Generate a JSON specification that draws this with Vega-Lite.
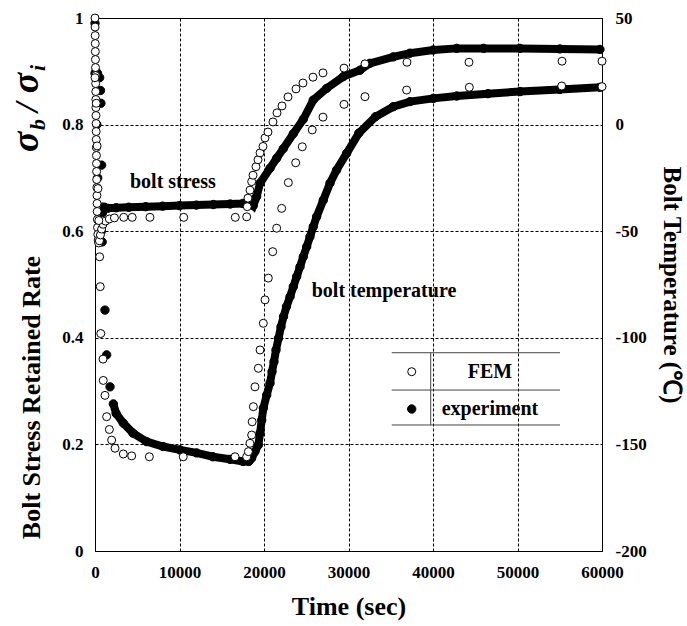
{
  "$schema": "https://vega.github.io/schema/vega-lite/v6.json",
  "width": 507,
  "height": 533,
  "autosize": {"type": "none"},
  "padding": {"left": 95, "top": 18, "right": 85, "bottom": 75},
  "background": "white",
  "config": {
    "font": "Liberation Serif",
    "view": {"stroke": "black", "strokeWidth": 1},
    "axis": {
      "labelFont": "Liberation Serif", "labelFontWeight": "bold", "labelFontSize": 17, "labelColor": "black",
      "titleFont": "Liberation Serif", "titleFontWeight": "bold", "titleFontSize": 26, "titleColor": "black",
      "domain": false, "ticks": false, "tickSize": 0, "grid": false
    },
    "text": {"font": "Liberation Serif", "fontWeight": "bold", "color": "black"}
  },
  "datasets": {
    "stressExp": [
      {"t": 0, "stress": 0.99, "src": "experiment"}, {"t": 120, "stress": 0.9, "src": "experiment"},
      {"t": 220, "stress": 0.8, "src": "experiment"}, {"t": 320, "stress": 0.7, "src": "experiment"},
      {"t": 420, "stress": 0.62, "src": "experiment"}, {"t": 600, "stress": 0.58, "src": "experiment"},
      {"t": 750, "stress": 0.6, "src": "experiment"}, {"t": 900, "stress": 0.635, "src": "experiment"},
      {"t": 1100, "stress": 0.645, "src": "experiment"}, {"t": 1500, "stress": 0.643, "src": "experiment"},
      {"t": 2500, "stress": 0.644, "src": "experiment"}, {"t": 4000, "stress": 0.645, "src": "experiment"},
      {"t": 6000, "stress": 0.646, "src": "experiment"}, {"t": 8000, "stress": 0.647, "src": "experiment"},
      {"t": 10000, "stress": 0.648, "src": "experiment"}, {"t": 12000, "stress": 0.649, "src": "experiment"},
      {"t": 14000, "stress": 0.65, "src": "experiment"}, {"t": 16000, "stress": 0.651, "src": "experiment"},
      {"t": 17500, "stress": 0.652, "src": "experiment"}, {"t": 18400, "stress": 0.653, "src": "experiment"},
      {"t": 18730, "stress": 0.648, "src": "experiment"}, {"t": 19130, "stress": 0.665, "src": "experiment"},
      {"t": 19530, "stress": 0.69, "src": "experiment"}, {"t": 20710, "stress": 0.718, "src": "experiment"},
      {"t": 21500, "stress": 0.737, "src": "experiment"}, {"t": 22290, "stress": 0.755, "src": "experiment"},
      {"t": 23470, "stress": 0.783, "src": "experiment"}, {"t": 24650, "stress": 0.81, "src": "experiment"},
      {"t": 25830, "stress": 0.846, "src": "experiment"}, {"t": 27420, "stress": 0.868, "src": "experiment"},
      {"t": 29380, "stress": 0.89, "src": "experiment"}, {"t": 31360, "stress": 0.902, "src": "experiment"},
      {"t": 32540, "stress": 0.915, "src": "experiment"}, {"t": 35300, "stress": 0.927, "src": "experiment"},
      {"t": 37280, "stress": 0.934, "src": "experiment"}, {"t": 40040, "stress": 0.94, "src": "experiment"},
      {"t": 42800, "stress": 0.943, "src": "experiment"}, {"t": 46000, "stress": 0.943, "src": "experiment"},
      {"t": 50300, "stress": 0.943, "src": "experiment"}, {"t": 55000, "stress": 0.942, "src": "experiment"},
      {"t": 59760, "stress": 0.941, "src": "experiment"}
    ],
    "stressFEM": [
      {"t": 0, "stress": 1.0, "src": "FEM"}, {"t": 10, "stress": 0.983, "src": "FEM"},
      {"t": 20, "stress": 0.967, "src": "FEM"}, {"t": 30, "stress": 0.952, "src": "FEM"},
      {"t": 40, "stress": 0.937, "src": "FEM"}, {"t": 50, "stress": 0.922, "src": "FEM"},
      {"t": 60, "stress": 0.907, "src": "FEM"}, {"t": 70, "stress": 0.892, "src": "FEM"},
      {"t": 80, "stress": 0.877, "src": "FEM"}, {"t": 90, "stress": 0.862, "src": "FEM"},
      {"t": 100, "stress": 0.847, "src": "FEM"}, {"t": 110, "stress": 0.832, "src": "FEM"},
      {"t": 120, "stress": 0.817, "src": "FEM"}, {"t": 130, "stress": 0.802, "src": "FEM"},
      {"t": 140, "stress": 0.787, "src": "FEM"}, {"t": 150, "stress": 0.772, "src": "FEM"},
      {"t": 160, "stress": 0.757, "src": "FEM"}, {"t": 170, "stress": 0.742, "src": "FEM"},
      {"t": 180, "stress": 0.727, "src": "FEM"}, {"t": 190, "stress": 0.712, "src": "FEM"},
      {"t": 200, "stress": 0.697, "src": "FEM"}, {"t": 215, "stress": 0.682, "src": "FEM"},
      {"t": 230, "stress": 0.667, "src": "FEM"}, {"t": 245, "stress": 0.652, "src": "FEM"},
      {"t": 260, "stress": 0.637, "src": "FEM"}, {"t": 280, "stress": 0.622, "src": "FEM"},
      {"t": 300, "stress": 0.607, "src": "FEM"}, {"t": 330, "stress": 0.594, "src": "FEM"},
      {"t": 370, "stress": 0.583, "src": "FEM"}, {"t": 430, "stress": 0.578, "src": "FEM"},
      {"t": 520, "stress": 0.582, "src": "FEM"}, {"t": 640, "stress": 0.593, "src": "FEM"},
      {"t": 780, "stress": 0.604, "src": "FEM"}, {"t": 950, "stress": 0.613, "src": "FEM"},
      {"t": 1250, "stress": 0.619, "src": "FEM"}, {"t": 1700, "stress": 0.623, "src": "FEM"},
      {"t": 2300, "stress": 0.625, "src": "FEM"}, {"t": 3400, "stress": 0.626, "src": "FEM"},
      {"t": 4400, "stress": 0.626, "src": "FEM"}, {"t": 6500, "stress": 0.626, "src": "FEM"},
      {"t": 10500, "stress": 0.626, "src": "FEM"}, {"t": 16600, "stress": 0.626, "src": "FEM"},
      {"t": 17950, "stress": 0.627, "src": "FEM"}, {"t": 18020, "stress": 0.646, "src": "FEM"},
      {"t": 18100, "stress": 0.662, "src": "FEM"}, {"t": 18340, "stress": 0.677, "src": "FEM"},
      {"t": 18540, "stress": 0.693, "src": "FEM"}, {"t": 18700, "stress": 0.705, "src": "FEM"},
      {"t": 19050, "stress": 0.721, "src": "FEM"}, {"t": 19290, "stress": 0.734, "src": "FEM"},
      {"t": 19530, "stress": 0.747, "src": "FEM"}, {"t": 19880, "stress": 0.759, "src": "FEM"},
      {"t": 20120, "stress": 0.775, "src": "FEM"}, {"t": 20470, "stress": 0.786, "src": "FEM"},
      {"t": 21060, "stress": 0.805, "src": "FEM"}, {"t": 21540, "stress": 0.822, "src": "FEM"},
      {"t": 22130, "stress": 0.835, "src": "FEM"}, {"t": 22840, "stress": 0.852, "src": "FEM"},
      {"t": 23790, "stress": 0.867, "src": "FEM"}, {"t": 24610, "stress": 0.878, "src": "FEM"},
      {"t": 25800, "stress": 0.889, "src": "FEM"}, {"t": 26980, "stress": 0.897, "src": "FEM"},
      {"t": 29470, "stress": 0.906, "src": "FEM"}, {"t": 31950, "stress": 0.914, "src": "FEM"},
      {"t": 36920, "stress": 0.917, "src": "FEM"}, {"t": 44260, "stress": 0.917, "src": "FEM"},
      {"t": 55270, "stress": 0.919, "src": "FEM"}, {"t": 60000, "stress": 0.919, "src": "FEM"}
    ],
    "tempExp": [
      {"t": 0, "temp": 24, "src": "experiment"}, {"t": 300, "temp": 24, "src": "experiment"},
      {"t": 550, "temp": 22, "src": "experiment"}, {"t": 650, "temp": 16, "src": "experiment"},
      {"t": 700, "temp": 10, "src": "experiment"}, {"t": 780, "temp": -19, "src": "experiment"},
      {"t": 850, "temp": -55, "src": "experiment"}, {"t": 1180, "temp": -87, "src": "experiment"},
      {"t": 1380, "temp": -108, "src": "experiment"}, {"t": 1780, "temp": -123, "src": "experiment"},
      {"t": 2170, "temp": -131, "src": "experiment"}, {"t": 2500, "temp": -135.5, "src": "experiment"},
      {"t": 3350, "temp": -140, "src": "experiment"}, {"t": 4490, "temp": -144.7, "src": "experiment"},
      {"t": 6110, "temp": -148.7, "src": "experiment"}, {"t": 8050, "temp": -151, "src": "experiment"},
      {"t": 10060, "temp": -152.6, "src": "experiment"}, {"t": 12030, "temp": -154, "src": "experiment"},
      {"t": 13960, "temp": -155.8, "src": "experiment"}, {"t": 15970, "temp": -157, "src": "experiment"},
      {"t": 17520, "temp": -158, "src": "experiment"}, {"t": 18200, "temp": -158, "src": "experiment"},
      {"t": 18530, "temp": -156.5, "src": "experiment"}, {"t": 18930, "temp": -153.4, "src": "experiment"},
      {"t": 19330, "temp": -150.3, "src": "experiment"}, {"t": 19530, "temp": -144.8, "src": "experiment"},
      {"t": 19730, "temp": -138.6, "src": "experiment"}, {"t": 19920, "temp": -133, "src": "experiment"},
      {"t": 20320, "temp": -126.8, "src": "experiment"}, {"t": 20710, "temp": -121.3, "src": "experiment"},
      {"t": 20950, "temp": -115.9, "src": "experiment"}, {"t": 21180, "temp": -111.2, "src": "experiment"},
      {"t": 21420, "temp": -105.7, "src": "experiment"}, {"t": 21720, "temp": -100.2, "src": "experiment"},
      {"t": 22010, "temp": -94.8, "src": "experiment"}, {"t": 22310, "temp": -90.1, "src": "experiment"},
      {"t": 22660, "temp": -85.4, "src": "experiment"}, {"t": 23080, "temp": -80.7, "src": "experiment"},
      {"t": 23470, "temp": -76, "src": "experiment"}, {"t": 23870, "temp": -71.3, "src": "experiment"},
      {"t": 24260, "temp": -66.7, "src": "experiment"}, {"t": 24650, "temp": -62, "src": "experiment"},
      {"t": 25050, "temp": -57.3, "src": "experiment"}, {"t": 25440, "temp": -52.6, "src": "experiment"},
      {"t": 25830, "temp": -47.9, "src": "experiment"}, {"t": 26230, "temp": -43.2, "src": "experiment"},
      {"t": 27010, "temp": -35.5, "src": "experiment"}, {"t": 27810, "temp": -27.5, "src": "experiment"},
      {"t": 28590, "temp": -21.3, "src": "experiment"}, {"t": 29780, "temp": -13.5, "src": "experiment"},
      {"t": 31220, "temp": -4, "src": "experiment"}, {"t": 33200, "temp": 3.7, "src": "experiment"},
      {"t": 35300, "temp": 8.4, "src": "experiment"}, {"t": 37280, "temp": 10.8, "src": "experiment"},
      {"t": 40040, "temp": 12.3, "src": "experiment"}, {"t": 42800, "temp": 13.4, "src": "experiment"},
      {"t": 46500, "temp": 14.5, "src": "experiment"}, {"t": 50310, "temp": 15.5, "src": "experiment"},
      {"t": 55000, "temp": 16.5, "src": "experiment"}, {"t": 59780, "temp": 17.5, "src": "experiment"}
    ],
    "tempFEM": [
      {"t": 0, "temp": 22, "src": "FEM"}, {"t": 150, "temp": 10, "src": "FEM"},
      {"t": 250, "temp": -10, "src": "FEM"}, {"t": 350, "temp": -30, "src": "FEM"},
      {"t": 450, "temp": -45, "src": "FEM"}, {"t": 550, "temp": -62, "src": "FEM"},
      {"t": 620, "temp": -76, "src": "FEM"}, {"t": 680, "temp": -98, "src": "FEM"},
      {"t": 950, "temp": -110, "src": "FEM"}, {"t": 980, "temp": -120, "src": "FEM"},
      {"t": 1180, "temp": -127, "src": "FEM"}, {"t": 1380, "temp": -137, "src": "FEM"},
      {"t": 1700, "temp": -143, "src": "FEM"}, {"t": 1970, "temp": -148, "src": "FEM"},
      {"t": 2370, "temp": -151.8, "src": "FEM"}, {"t": 3350, "temp": -154.5, "src": "FEM"},
      {"t": 4340, "temp": -155.4, "src": "FEM"}, {"t": 6430, "temp": -155.8, "src": "FEM"},
      {"t": 10440, "temp": -155.8, "src": "FEM"}, {"t": 16570, "temp": -155.8, "src": "FEM"},
      {"t": 17950, "temp": -155.8, "src": "FEM"}, {"t": 18150, "temp": -153.4, "src": "FEM"},
      {"t": 18340, "temp": -149.5, "src": "FEM"}, {"t": 18540, "temp": -145.6, "src": "FEM"},
      {"t": 18600, "temp": -139.4, "src": "FEM"}, {"t": 18740, "temp": -132.3, "src": "FEM"},
      {"t": 18930, "temp": -123, "src": "FEM"}, {"t": 19330, "temp": -114.3, "src": "FEM"},
      {"t": 19530, "temp": -105.7, "src": "FEM"}, {"t": 19920, "temp": -93.2, "src": "FEM"},
      {"t": 20120, "temp": -82.2, "src": "FEM"}, {"t": 20510, "temp": -72, "src": "FEM"},
      {"t": 21030, "temp": -59.6, "src": "FEM"}, {"t": 21500, "temp": -48.6, "src": "FEM"},
      {"t": 22090, "temp": -39.3, "src": "FEM"}, {"t": 22880, "temp": -27.2, "src": "FEM"},
      {"t": 23750, "temp": -17.9, "src": "FEM"}, {"t": 24530, "temp": -10.4, "src": "FEM"},
      {"t": 25710, "temp": -2.5, "src": "FEM"}, {"t": 26980, "temp": 3.5, "src": "FEM"},
      {"t": 29470, "temp": 9.5, "src": "FEM"}, {"t": 31950, "temp": 13.1, "src": "FEM"},
      {"t": 36880, "temp": 16.2, "src": "FEM"}, {"t": 44300, "temp": 17.5, "src": "FEM"},
      {"t": 55230, "temp": 18.1, "src": "FEM"}, {"t": 60000, "temp": 17.8, "src": "FEM"}
    ]
  },
  "layer": [
    {
      "layer": [
        {
          "data": {"name": "stressExp"},
          "transform": [{"filter": "datum.t >= 800"}],
          "mark": {"type": "line", "color": "black", "strokeWidth": 8, "interpolate": "linear"},
          "encoding": {
            "x": {
              "field": "t", "type": "quantitative", "title": "Time (sec)",
              "scale": {"domain": [0, 60000], "nice": false, "zero": false},
              "axis": {
                "values": [0, 10000, 20000, 30000, 40000, 50000, 60000], "format": "d",
                "grid": true, "gridColor": "black", "gridDash": [3, 2], "gridWidth": 1, "gridOpacity": 1,
                "labelPadding": 13, "labelFlush": false,
                "title": "Time (sec)", "titleY": 55, "titleBaseline": "middle"
              }
            },
            "y": {
              "field": "stress", "type": "quantitative",
              "scale": {"domain": [0, 1], "nice": false, "zero": false},
              "axis": {
                "orient": "left", "values": [0, 0.2, 0.4, 0.6, 0.8, 1], "format": "~g",
                "grid": true, "gridColor": "black", "gridDash": [3, 2], "gridWidth": 1, "gridOpacity": 1,
                "labelPadding": 12,
                "title": "Bolt Stress Retained Rate", "titleX": -64, "titleY": 379,
                "titleAlign": "center", "titleBaseline": "middle", "titleAngle": -90
              }
            }
          }
        },
        {
          "data": {"name": "stressExp"},
          "mark": {"type": "point", "shape": "circle", "filled": true, "stroke": "black", "strokeWidth": 1, "size": 70, "opacity": 1},
          "encoding": {
            "x": {"field": "t", "type": "quantitative", "title": "Time (sec)"},
            "y": {"field": "stress", "type": "quantitative"},
            "fill": {"field": "src", "type": "nominal", "scale": {"domain": ["FEM", "experiment"], "range": ["white", "black"]}, "legend": null}
          }
        },
        {
          "data": {"values": [{}]},
          "mark": {"type": "rule", "color": "#444", "strokeWidth": 1},
          "encoding": {"x": {"datum": 35110}, "x2": {"datum": 55030}, "y": {"datum": 0.372}}
        },
        {
          "data": {"values": [{}]},
          "mark": {"type": "rule", "color": "#444", "strokeWidth": 1},
          "encoding": {"x": {"datum": 35110}, "x2": {"datum": 55030}, "y": {"datum": 0.302}}
        },
        {
          "data": {"values": [{}]},
          "mark": {"type": "rule", "color": "#444", "strokeWidth": 1},
          "encoding": {"x": {"datum": 35110}, "x2": {"datum": 55030}, "y": {"datum": 0.2364}}
        },
        {
          "data": {"values": [{}]},
          "mark": {"type": "rule", "color": "#444", "strokeWidth": 1},
          "encoding": {"x": {"datum": 39730}, "y": {"datum": 0.2364}, "y2": {"datum": 0.372}}
        },
        {
          "data": {"values": [{}]},
          "mark": {"type": "point", "shape": "circle", "filled": true, "fill": "white", "stroke": "black", "strokeWidth": 1, "size": 64, "opacity": 1},
          "encoding": {"x": {"datum": 37480}, "y": {"datum": 0.3364}}
        },
        {
          "data": {"values": [{}]},
          "mark": {"type": "point", "shape": "circle", "filled": true, "fill": "black", "stroke": "black", "strokeWidth": 1, "size": 70, "opacity": 1},
          "encoding": {"x": {"datum": 37480}, "y": {"datum": 0.2664}}
        },
        {
          "data": {"values": [{}]},
          "mark": {"type": "text", "text": "FEM", "fontSize": 20, "align": "center", "baseline": "middle"},
          "encoding": {"x": {"datum": 46740}, "y": {"datum": 0.3364}}
        },
        {
          "data": {"values": [{}]},
          "mark": {"type": "text", "text": "experiment", "fontSize": 20, "align": "center", "baseline": "middle"},
          "encoding": {"x": {"datum": 46740}, "y": {"datum": 0.2664}}
        },
        {
          "data": {"values": [{}]},
          "mark": {"type": "text", "text": "bolt stress", "fontSize": 20, "align": "left", "baseline": "middle"},
          "encoding": {"x": {"datum": 4140}, "y": {"datum": 0.693}}
        },
        {
          "data": {"values": [{}]},
          "mark": {"type": "text", "text": "bolt temperature", "fontSize": 20, "align": "left", "baseline": "middle"},
          "encoding": {"x": {"datum": 25645}, "y": {"datum": 0.487}}
        },
        {
          "data": {"values": [{}]},
          "mark": {"type": "text", "text": "σ", "fontStyle": "italic", "fontSize": 38, "align": "left", "baseline": "alphabetic", "angle": 270},
          "encoding": {"x": {"datum": -6745}, "y": {"datum": 0.7486}}
        },
        {
          "data": {"values": [{}]},
          "mark": {"type": "text", "text": "b", "fontStyle": "italic", "fontSize": 22, "align": "left", "baseline": "alphabetic", "angle": 270, "dy": 7},
          "encoding": {"x": {"datum": -6745}, "y": {"datum": 0.7899}}
        },
        {
          "data": {"values": [{}]},
          "mark": {"type": "text", "text": "/", "fontStyle": "italic", "fontSize": 34, "align": "left", "baseline": "alphabetic", "angle": 270},
          "encoding": {"x": {"datum": -6745}, "y": {"datum": 0.8236}}
        },
        {
          "data": {"values": [{}]},
          "mark": {"type": "text", "text": "σ", "fontStyle": "italic", "fontSize": 38, "align": "left", "baseline": "alphabetic", "angle": 270},
          "encoding": {"x": {"datum": -6745}, "y": {"datum": 0.859}}
        },
        {
          "data": {"values": [{}]},
          "mark": {"type": "text", "text": "i", "fontStyle": "italic", "fontSize": 22, "align": "left", "baseline": "alphabetic", "angle": 270, "dy": 7},
          "encoding": {"x": {"datum": -6745}, "y": {"datum": 0.9006}}
        }
      ]
    },
    {
      "layer": [
        {
          "data": {"name": "tempExp"},
          "transform": [{"filter": "datum.t >= 2100"}],
          "mark": {"type": "line", "color": "black", "strokeWidth": 8},
          "encoding": {
            "x": {"field": "t", "type": "quantitative", "title": "Time (sec)"},
            "y": {
              "field": "temp", "type": "quantitative",
              "scale": {"domain": [-200, 50], "nice": false, "zero": false},
              "axis": {
                "orient": "right", "values": [-200, -150, -100, -50, 0, 50], "labelExpr": "'' + datum.value",
                "grid": false, "labelPadding": 13,
                "title": "Bolt Temperature  (℃)", "titleFontSize": 25, "titleX": 69, "titleY": 266.5,
                "titleAlign": "center", "titleBaseline": "middle", "titleAngle": 90
              }
            }
          }
        },
        {
          "data": {"name": "tempExp"},
          "mark": {"type": "point", "shape": "circle", "filled": true, "stroke": "black", "strokeWidth": 1, "size": 70, "opacity": 1},
          "encoding": {
            "x": {"field": "t", "type": "quantitative", "title": "Time (sec)"},
            "y": {"field": "temp", "type": "quantitative"},
            "fill": {"field": "src", "type": "nominal", "scale": {"domain": ["FEM", "experiment"], "range": ["white", "black"]}, "legend": null}
          }
        }
      ]
    },
    {
      "data": {"name": "stressFEM"},
      "mark": {"type": "point", "shape": "circle", "filled": true, "stroke": "black", "strokeWidth": 1, "size": 64, "opacity": 1},
      "encoding": {
        "x": {"field": "t", "type": "quantitative", "title": "Time (sec)"},
        "y": {"field": "stress", "type": "quantitative", "scale": {"domain": [0, 1], "nice": false, "zero": false}, "axis": null},
        "fill": {"field": "src", "type": "nominal", "scale": {"domain": ["FEM", "experiment"], "range": ["white", "black"]}, "legend": null}
      }
    },
    {
      "data": {"name": "tempFEM"},
      "mark": {"type": "point", "shape": "circle", "filled": true, "stroke": "black", "strokeWidth": 1, "size": 64, "opacity": 1},
      "encoding": {
        "x": {"field": "t", "type": "quantitative", "title": "Time (sec)"},
        "y": {"field": "temp", "type": "quantitative", "scale": {"domain": [-200, 50], "nice": false, "zero": false}, "axis": null},
        "fill": {"field": "src", "type": "nominal", "scale": {"domain": ["FEM", "experiment"], "range": ["white", "black"]}, "legend": null}
      }
    }
  ],
  "resolve": {"scale": {"y": "independent"}}
}
